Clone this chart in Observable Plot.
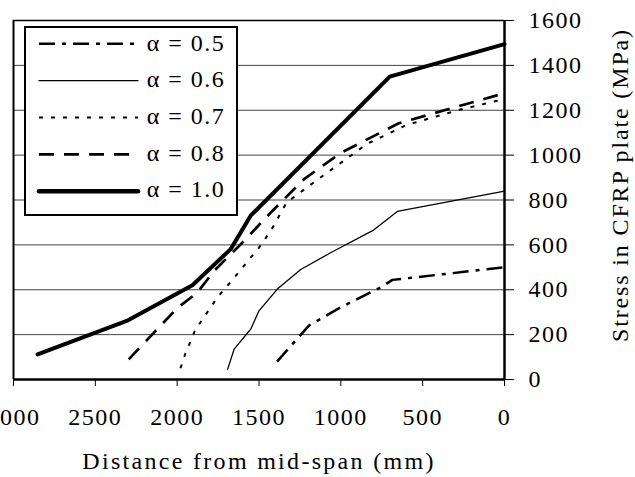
<!DOCTYPE html>
<html><head><meta charset="utf-8">
<script src="https://cdn.jsdelivr.net/npm/d3@7"></script>
<script src="https://cdn.jsdelivr.net/npm/@observablehq/plot@0.6"></script>
<style>
html,body{margin:0;padding:0;background:#fff;}
#chart svg{display:block;}
#chart svg text{letter-spacing:1.5px;}
#chart svg .xtitle text{letter-spacing:2.3px;}
#chart svg .ytitle text{letter-spacing:1.85px;}
</style></head><body><div id="chart"></div>
<script>
// ---- data ----
const seriesLabels = ["α = 0.5", "α = 0.6", "α = 0.7", "α = 0.8", "α = 1.0"];

const dist05   = [1390, 1195, 1000, 750, 685, 0];
const stress05 = [80, 240, 322, 413, 444, 500];

const dist06   = [1692, 1652, 1550, 1500, 1388, 1245, 1060, 800, 655, 0];
const stress06 = [45, 135, 225, 306, 403, 490, 566, 666, 749, 840];

const dist07   = [1980, 1950, 1890, 1755, 1650, 1500, 1430, 1330, 1110, 840, 600, 270, 0];
const stress07 = [50, 115, 220, 365, 455, 588, 660, 790, 908, 1050, 1134, 1203, 1250];

const dist08   = [2296, 2000, 1877, 1775, 1611, 1428, 1225, 1000, 646, 0];
const stress08 = [90, 318, 387, 484, 603, 744, 893, 1010, 1142, 1276];

const dist10   = [2853, 2300, 1907, 1673, 1551, 701, 0];
const stress10 = [112, 264, 420, 581, 730, 1350, 1495];

const xTicks = [3000, 2500, 2000, 1500, 1000, 500, 0];
const yTicks = [0, 200, 400, 600, 800, 1000, 1200, 1400, 1600];
const xTitle = "Distance from mid-span (mm)";
const yTitle = "Stress in CFRP plate (MPa)";

// ---- styles ----
const seriesStyles = [
  {strokeWidth: 2.5, dash: "16,7,4,7"},
  {strokeWidth: 1.3, dash: null},
  {strokeWidth: 2,   dash: "4,8"},
  {strokeWidth: 2.7, dash: "15,10"},
  {strokeWidth: 4,   dash: null}
];

const dists = [dist05, dist06, dist07, dist08, dist10];
const stresses = [stress05, stress06, stress07, stress08, stress10];
const tables = dists.map((d, i) => d.map((x, j) => ({x, y: stresses[i][j]})));

const lineMarks = tables.map((t, i) => Plot.line(t, {
  x: "x", y: "y", stroke: "black",
  strokeWidth: seriesStyles[i].strokeWidth,
  strokeDasharray: seriesStyles[i].dash || undefined,
  strokeLinecap: seriesStyles[i].dash ? "butt" : "round",
  strokeLinejoin: "round"
}));

const plot = Plot.plot({
  width: 635, height: 477,
  marginLeft: 13, marginRight: 131, marginTop: 20, marginBottom: 98,
  style: {fontFamily: '"Liberation Serif", "Times New Roman", serif', fontSize: "24px", background: "white", color: "black"},
  x: {domain: [3000, 0], ticks: xTicks, tickSize: 7, tickPadding: 21, label: null, tickFormat: d => String(d)},
  y: {domain: [0, 1600], ticks: yTicks, tickSize: 9, tickPadding: 15, label: null, axis: "right", tickFormat: d => String(d)},
  marks: [
    Plot.ruleY(yTicks.slice(1, -1), {stroke: "#444", strokeWidth: 1}),
    ...lineMarks,
    Plot.ruleX([3000], {stroke: "black", strokeWidth: 2}),
    Plot.ruleX([0], {stroke: "black", strokeWidth: 2.5}),
    Plot.ruleY([1600], {stroke: "black", strokeWidth: 1.5}),
    Plot.ruleY([0], {stroke: "black", strokeWidth: 2.5}),
    Plot.text([xTitle], {text: d => d, frameAnchor: "bottom", dy: 82, textAnchor: "middle", lineAnchor: "middle", fontSize: 24, fill: "black", className: "xtitle"}),
    Plot.text([yTitle], {text: d => d, frameAnchor: "right", dx: 116, dy: -15, rotate: -90, textAnchor: "middle", lineAnchor: "middle", fontSize: 24, fill: "black", className: "ytitle"})
  ]
});
document.getElementById("chart").appendChild(plot);

// ---- legend ----
const svg = d3.select(plot);
const lg = svg.append("g").attr("text-anchor", "start");
lg.append("rect").attr("x", 25).attr("y", 27).attr("width", 212).attr("height", 188)
  .attr("fill", "white").attr("stroke", "black").attr("stroke-width", 2);
seriesLabels.forEach((lab, i) => {
  const st = seriesStyles[i];
  lg.append("line").attr("x1", 39).attr("x2", 138)
    .attr("y1", 43.7 + 36.9 * i).attr("y2", 43.7 + 36.9 * i)
    .attr("stroke", "black").attr("stroke-width", st.strokeWidth + (i === 4 ? 0.5 : 0))
    .attr("stroke-dasharray", st.dash)
    .attr("stroke-linecap", st.dash ? "butt" : "round");
  lg.append("text").attr("x", 146.7).attr("y", 50.7 + 36.65 * i)
    .attr("text-anchor", "start")
    .attr("font-size", 24).attr("fill", "black").text(lab);
});
</script></body></html>
